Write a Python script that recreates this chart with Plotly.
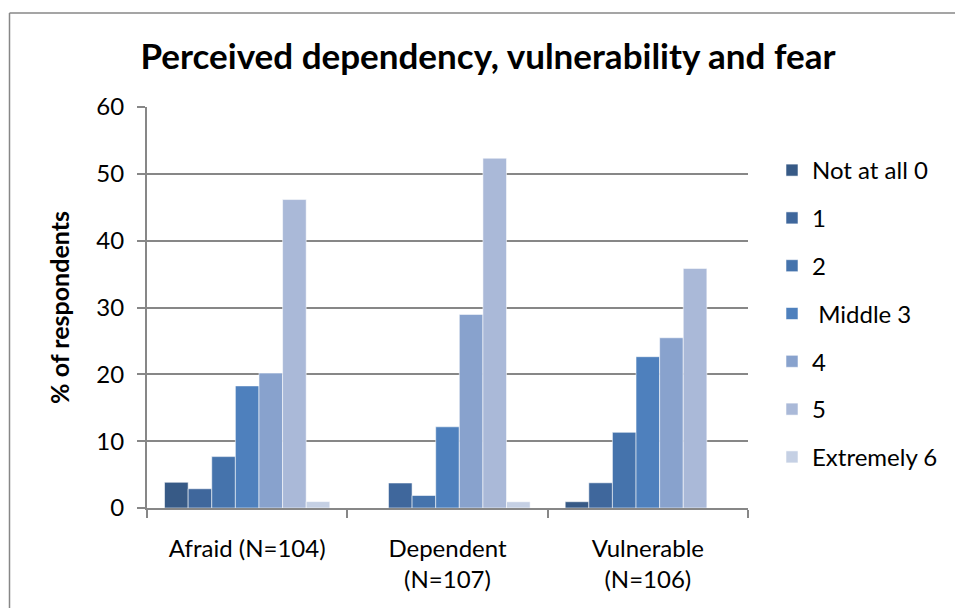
import plotly.graph_objects as go

categories = ["Afraid (N=104)", "Dependent<br>(N=107)", "Vulnerable<br>(N=106)"]
series_names = ["Not at all 0", "1", "2", " Middle 3", "4", "5", "Extremely 6"]
values = {
    "Not at all 0": [3.85, 0.0, 0.94],
    "1": [2.88, 3.74, 3.77],
    "2": [7.69, 1.87, 11.32],
    " Middle 3": [18.27, 12.15, 22.64],
    "4": [20.19, 28.97, 25.47],
    "5": [46.15, 52.34, 35.85],
    "Extremely 6": [0.96, 0.93, 0.0],
}
colors = ["#375A86", "#3F679C", "#4573AC", "#4E80BD", "#88A2CD", "#AAB9D8", "#C5D0E4"]
y_ticks = [0, 10, 20, 30, 40, 50, 60]

FONT = "Lato, Carlito, Calibri, sans-serif"
W, H = 955, 608

fig = go.Figure()
for name, col in zip(series_names, colors):
    fig.add_trace(go.Bar(
        x=categories, y=values[name], name=name, legendgroup=name,
        marker=dict(color=col, line=dict(color="rgba(255,255,255,0.55)", width=1)),
    ))

fig.update_layout(
    width=W, height=H,
    margin=dict(l=147, r=W - 748, t=107, b=H - 508),
    paper_bgcolor="white", plot_bgcolor="white",
    barmode="group", bargap=0.175, bargroupgap=0,
    font=dict(family=FONT, size=24, color="black"),
    title=dict(text="<b>Perceived dependency, vulnerability and fear</b>",
               x=488 / W, xref="container", xanchor="center",
               y=1 - 57 / H, yref="container", yanchor="middle",
               font=dict(family=FONT, size=35, color="black")),
    legend=dict(x=(772 - 147) / 601, xanchor="left", y=(508 - 148) / 401, yanchor="top",
                font=dict(family=FONT, size=24), tracegroupgap=13.6,
                itemwidth=30, bgcolor="rgba(0,0,0,0)"),
    showlegend=True,
)
fig.update_xaxes(
    showline=True, linecolor="#878787", linewidth=2,
    ticks="outside", tickson="boundaries", ticklen=8, tickcolor="#878787", tickwidth=2,
    showgrid=False, tickfont=dict(family=FONT, size=24), ticklabelstandoff=18,
)
fig.update_yaxes(
    range=[0, 60], tickvals=y_ticks, showgrid=True, gridcolor="#878787", gridwidth=2,
    showline=True, linecolor="#878787", linewidth=2,
    ticks="outside", ticklen=8, tickcolor="#878787", tickwidth=2,
    zeroline=False, tickfont=dict(family=FONT, size=24), ticklabelstandoff=8,
    title=dict(text="<b>% of respondents</b>", font=dict(family=FONT, size=25), standoff=20),
)
# chart-area frame (only left and top edges visible)
frame_left = (9.5 - 147) / 601
frame_top = (508 - 13) / 401
fig.add_shape(type="line", xref="paper", yref="paper",
              x0=frame_left, x1=frame_left, y0=-1.0, y1=frame_top,
              line=dict(color="#878787", width=1.5), layer="below")
fig.add_shape(type="line", xref="paper", yref="paper",
              x0=frame_left, x1=2.0, y0=frame_top, y1=frame_top,
              line=dict(color="#878787", width=1.5), layer="below")

page_css = (
    "document.documentElement.style.overflow='hidden';"
    "document.body.style.margin='0';"
    "document.body.style.overflow='hidden';"
)
fig.write_html("out.html", post_script=page_css,
               config={"displayModeBar": False, "staticPlot": True})
